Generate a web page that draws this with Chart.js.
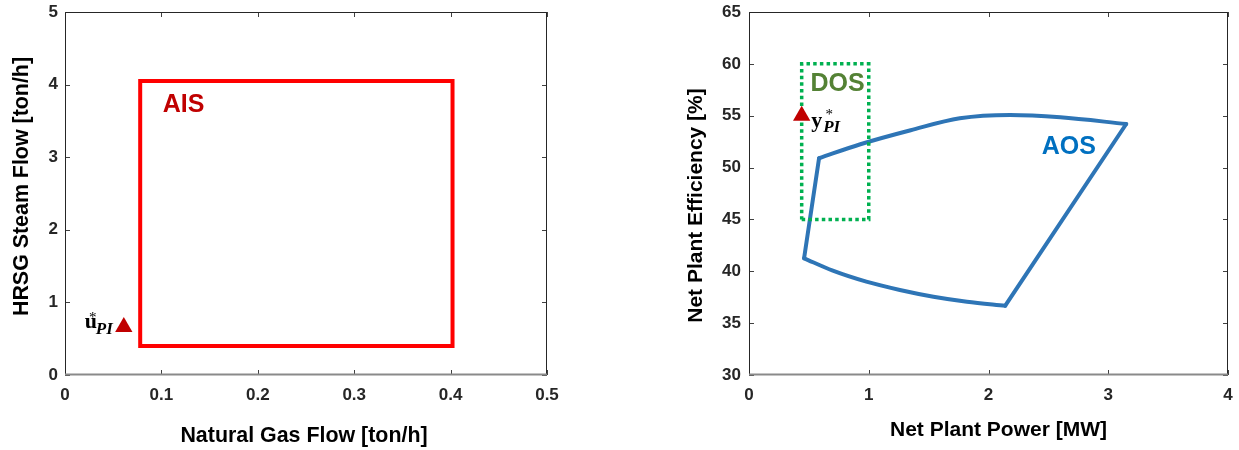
<!DOCTYPE html>
<html>
<head>
<meta charset="utf-8">
<script src="https://cdn.jsdelivr.net/npm/chart.js@4.4.1/dist/chart.umd.min.js"></script>
<style>
  html, body { margin: 0; padding: 0; background: #fff; }
  #wrap { position: relative; width: 1239px; height: 450px; overflow: hidden; }
  #inputChart { position: absolute; left: 0; top: 0; }
  #outputChart { position: absolute; left: 620px; top: 0; }
</style>
</head>
<body>
<div id="wrap">
  <canvas id="inputChart" width="620" height="450"></canvas>
  <canvas id="outputChart" width="619" height="450"></canvas>
</div>
<script>
// ---- Input space: natural gas flow vs HRSG steam flow ----
const aisGas   = [0.078, 0.402, 0.402, 0.078, 0.078];
const aisSteam = [0.40, 0.40, 4.05, 4.05, 0.40];
const uPIGas   = [0.061];
const uPISteam = [0.66];
const gasTicks   = [0, 0.1, 0.2, 0.3, 0.4, 0.5];
const steamTicks = [0, 1, 2, 3, 4, 5];

// ---- Output space: net plant power vs net plant efficiency ----
const dosPower = [0.44, 1.0, 1.0, 0.44, 0.44];
const dosEff   = [45, 45, 60, 60, 45];
const aosLowerPower = [0.46, 0.70, 0.98, 1.26, 1.54, 1.82, 2.14];
const aosLowerEff   = [41.25, 40.06, 39.0, 38.2, 37.55, 37.07, 36.68];
const aosRightPower = [2.14, 3.15];
const aosRightEff   = [36.68, 54.2];
const aosUpperPower = [0.585, 0.93, 1.35, 1.76, 2.18, 2.60, 3.15];
const aosUpperEff   = [50.9, 52.25, 53.6, 54.75, 55.07, 54.85, 54.2];
const aosLeftPower  = [0.46, 0.585];
const aosLeftEff    = [41.25, 50.9];
const yPIPower = [0.44];
const yPIEff   = [55.0];
const powerTicks = [0, 1, 2, 3, 4];
const effTicks   = [30, 35, 40, 45, 50, 55, 60, 65];

const SANS = '"Liberation Sans", Arial, Helvetica, sans-serif';
const SERIF = '"Liberation Serif", "Times New Roman", serif';

const zip = (xs, ys) => xs.map((x, i) => ({ x, y: ys[i] }));

// Box, inward ticks, axis titles and in-plot text
const frameAndText = {
  id: 'frameAndText',
  afterDraw(chart, args, o) {
    const { ctx, chartArea: a, scales } = chart;
    const xs = scales.x, ys = scales.y;
    ctx.save();

    // inward tick marks on all four sides
    ctx.strokeStyle = '#404040';
    ctx.lineWidth = 1;
    ctx.beginPath();
    xs.ticks.forEach(t => {
      const p = Math.round(xs.getPixelForValue(t.value)) + 0.5;
      ctx.moveTo(p, a.bottom); ctx.lineTo(p, a.bottom - 5);
      ctx.moveTo(p, a.top); ctx.lineTo(p, a.top + 5);
    });
    ys.ticks.forEach(t => {
      const p = Math.round(ys.getPixelForValue(t.value)) + 0.5;
      ctx.moveTo(a.left, p); ctx.lineTo(a.left + 5, p);
      ctx.moveTo(a.right, p); ctx.lineTo(a.right - 5, p);
    });
    ctx.stroke();

    // axes box
    const L = Math.round(a.left) + 0.5, R = Math.round(a.right) - 0.5;
    const T = Math.round(a.top) + 0.5, B = Math.round(a.bottom) - 0.5;
    ctx.strokeStyle = '#262626';
    ctx.lineWidth = 1;
    ctx.beginPath();
    ctx.moveTo(L, B); ctx.lineTo(L, T); ctx.lineTo(R, T); ctx.lineTo(R, B);
    ctx.stroke();
    ctx.strokeStyle = '#8a8a8a';
    ctx.lineWidth = 2;
    ctx.beginPath();
    ctx.moveTo(L - 0.5, B); ctx.lineTo(R + 0.5, B);
    ctx.stroke();

    // axis titles
    ctx.fillStyle = '#000';
    ctx.font = 'bold ' + o.titleSize + 'px ' + SANS;
    ctx.textAlign = 'center';
    ctx.textBaseline = 'middle';
    ctx.fillText(o.xTitle, (a.left + a.right) / 2 + o.xTitleAt[0], a.bottom + o.xTitleAt[1]);
    ctx.save();
    ctx.translate(a.left + o.yTitleAt[0], (a.top + a.bottom) / 2 + o.yTitleAt[1]);
    ctx.rotate(-Math.PI / 2);
    ctx.fillText(o.yTitle, 0, 0);
    ctx.restore();

    // region names
    o.regions.forEach(r => {
      ctx.font = 'bold 25px ' + SANS;
      ctx.fillStyle = r.color;
      ctx.textAlign = 'center';
      ctx.textBaseline = 'middle';
      ctx.fillText(r.text, xs.getPixelForValue(r.x), ys.getPixelForValue(r.y));
    });

    // point labels: bold letter, asterisk superscript, italic PI subscript
    o.pointLabels.forEach(l => {
      const px = xs.getPixelForValue(l.x), py = ys.getPixelForValue(l.y);
      const x0 = px + l.dx, base = py + l.dy;
      ctx.fillStyle = '#000';
      ctx.textAlign = 'left';
      ctx.textBaseline = 'alphabetic';
      ctx.font = 'bold 22px ' + SERIF;
      ctx.fillText(l.main, x0, base);
      ctx.font = '15px ' + SERIF;
      ctx.textAlign = 'center';
      ctx.textBaseline = 'top';
      ctx.fillText('*', x0 + l.starDx, base + l.starDy);
      ctx.textAlign = 'left';
      ctx.textBaseline = 'alphabetic';
      ctx.font = 'italic bold 17px ' + SERIF;
      ctx.fillText('PI', x0 + l.subDx, base + l.subDy);
    });

    ctx.restore();
  }
};

function linearAxis(min, max, tickValues, fitSize, padding, horizontal) {
  return {
    type: 'linear',
    min, max,
    afterBuildTicks: s => { s.ticks = tickValues.map(v => ({ value: v })); },
    afterFit: s => {
      if (horizontal) s.height = fitSize; else s.width = fitSize;
      // keep the plot area exactly where the layout padding puts it
      s.paddingTop = 0; s.paddingBottom = 0; s.paddingLeft = 0; s.paddingRight = 0;
    },
    grid: { display: false, drawTicks: false },
    border: { display: false },
    ticks: {
      padding,
      color: '#262626',
      font: { family: SANS, size: 17, weight: 'bold' },
      callback: v => String(v)
    }
  };
}

const baseOptions = {
  responsive: false,
  animation: false,
  events: [],
  plugins: { legend: { display: false }, tooltip: { enabled: false } }
};

// Input space chart
new Chart(document.getElementById('inputChart'), {
  type: 'scatter',
  data: {
    datasets: [
      {
        data: zip(uPIGas, uPISteam),
        pointStyle: 'triangle', pointRadius: 10, hoverRadius: 0,
        backgroundColor: '#c00000', borderWidth: 0
      },
      {
        data: zip(aisGas, aisSteam),
        showLine: true, pointRadius: 0, hoverRadius: 0,
        borderColor: '#ff0000', borderWidth: 4,
        borderJoinStyle: 'miter', borderCapStyle: 'square', tension: 0
      }
    ]
  },
  options: {
    ...baseOptions,
    layout: { autoPadding: false, padding: { left: 0, right: 73, top: 12, bottom: 0 } },
    scales: {
      x: linearAxis(0, 0.5, gasTicks, 75, 10, true),
      y: linearAxis(0, 5, steamTicks, 65, 7, false)
    },
    plugins: {
      ...baseOptions.plugins,
      frameAndText: {
        titleSize: 21.4,
        xTitle: 'Natural Gas Flow [ton/h]',
        xTitleAt: [-2, 61],
        yTitle: 'HRSG Steam Flow [ton/h]',
        yTitleAt: [-43, -7],
        regions: [{ text: 'AIS', x: 0.123, y: 3.72, color: '#c00000' }],
        pointLabels: [{ main: 'u', x: uPIGas[0], y: uPISteam[0], dx: -39, dy: 1, starDx: 8, starDy: -18, subDx: 11, subDy: 6 }]
      }
    }
  },
  plugins: [frameAndText]
});

// Output space chart
const aosStyle = {
  showLine: true, pointRadius: 0, hoverRadius: 0,
  borderColor: '#2e75b6', borderWidth: 4,
  borderCapStyle: 'round', borderJoinStyle: 'round',
  cubicInterpolationMode: 'monotone'
};

new Chart(document.getElementById('outputChart'), {
  type: 'scatter',
  data: {
    datasets: [
      {
        data: zip(yPIPower, yPIEff),
        pointStyle: 'triangle', pointRadius: 10, hoverRadius: 0,
        backgroundColor: '#c00000', borderWidth: 0
      },
      {
        data: zip(dosPower, dosEff),
        showLine: true, pointRadius: 0, hoverRadius: 0,
        borderColor: '#00b050', borderWidth: 3.5,
        borderDash: [3.5, 3.2], borderJoinStyle: 'miter', tension: 0
      },
      { ...aosStyle, data: zip(aosLowerPower, aosLowerEff) },
      { ...aosStyle, data: zip(aosRightPower, aosRightEff) },
      { ...aosStyle, data: zip(aosUpperPower, aosUpperEff) },
      { ...aosStyle, data: zip(aosLeftPower, aosLeftEff) }
    ]
  },
  options: {
    ...baseOptions,
    layout: { autoPadding: false, padding: { left: 0, right: 11, top: 12, bottom: 0 } },
    scales: {
      x: linearAxis(0, 4, powerTicks, 75, 10, true),
      y: linearAxis(30, 65, effTicks, 129, 8, false)
    },
    plugins: {
      ...baseOptions.plugins,
      frameAndText: {
        titleSize: 21,
        xTitle: 'Net Plant Power [MW]',
        xTitleAt: [10, 55],
        yTitle: 'Net Plant Efficiency [%]',
        yTitleAt: [-53, 12],
        regions: [
          { text: 'DOS', x: 0.74, y: 58, color: '#548235' },
          { text: 'AOS', x: 2.67, y: 52, color: '#0070c0' }
        ],
        pointLabels: [{ main: 'y', x: yPIPower[0], y: yPIEff[0], dx: 9.5, dy: 11, starDx: 18, starDy: -19, subDx: 12, subDy: 5 }]
      }
    }
  },
  plugins: [frameAndText]
});
</script>
</body>
</html>
